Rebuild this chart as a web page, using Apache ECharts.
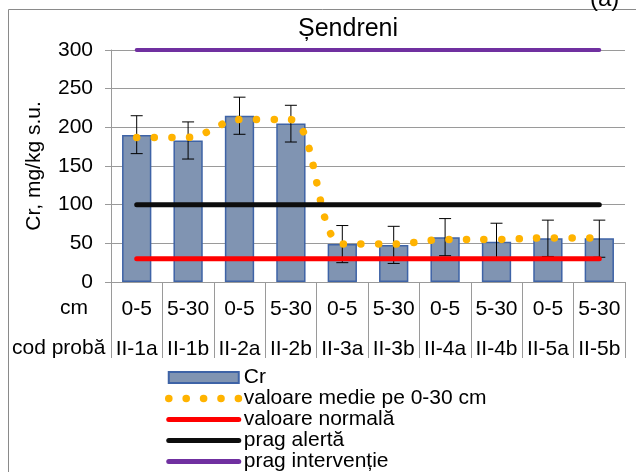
<!DOCTYPE html>
<html><head><meta charset="utf-8">
<script src="https://cdn.jsdelivr.net/npm/echarts@6/dist/echarts.min.js"></script>
<style>html,body{margin:0;padding:0;background:#fff}#c{width:636px;height:472px}</style>
</head><body><div id="c"></div>
<script>
const depths = ['0-5','5-30','0-5','5-30','0-5','5-30','0-5','5-30','0-5','5-30'];
const codes = ['II-1a','II-1b','II-2a','II-2b','II-3a','II-3b','II-4a','II-4b','II-5a','II-5b'];
const crValues = [190,183,215,205,49,48,58,52,56.5,56.5];
const errLow = [166,159,191,181,25,24,34,28,33,32];
const errHigh = [215,207,239,228.5,73,72,82,76,80,80];
const meanValues = [187,187,210,210,49,49,55,55,57,57];
const normalValues = [30,30,30,30,30,30,30,30,30,30];
const alertValues = [100,100,100,100,100,100,100,100,100,100];
const interventionValues = [300,300,300,300,300,300,300,300,300,300];
const yMin = 0, yMax = 300, yStep = 50;
const titleText = 'Șendreni';
const yName = 'Cr, mg/kg s.u.';
const rowHeaders = ['cm','cod probă'];
const names = ['Cr','valoare medie pe 0-30 cm','valoare normală','prag alertă','prag intervenție'];

const FONT = '"Liberation Sans", Arial, sans-serif';
const GRAY = '#9a9a9a';
const chart = echarts.init(document.getElementById('c'));
const dotted = {color:'#FFB300', width:7.5, type:[0.1,17.5], cap:'round'};
const dottedLegend = {color:'#FFB300', width:7.5, type:[0.1,17.3], cap:'round'};
const noSym = {opacity:0};
chart.setOption({
  animation:false,
  textStyle:{fontFamily:FONT},
  title:{text:titleText, left:298, top:17, padding:0, textStyle:{fontFamily:FONT, fontSize:25, fontWeight:'normal', color:'#000'}},
  grid:{left:111, right:11, top:50, bottom:190, containLabel:false},
  graphic:[
    {type:'rect', shape:{x:8.5,y:9.5,width:700,height:600}, style:{fill:'none', stroke:'#8a8a8a', lineWidth:1}, z:-1},
    {type:'text', left:590, top:-13, style:{text:'(a)', fontFamily:FONT, fontSize:24, fill:'#000'}},
    {type:'text', right:636-88, top:298, style:{text:rowHeaders[0], fontFamily:FONT, fontSize:21, fill:'#000', textAlign:'right'}},
    {type:'text', left:12, top:338, style:{text:rowHeaders[1], fontFamily:FONT, fontSize:21, fill:'#000'}}
  ],
  legend:{orient:'vertical', left:165, top:367, padding:0, itemGap:0, itemWidth:70, itemHeight:11, selectedMode:false,
    textStyle:{fontFamily:FONT, fontSize:21, color:'#000', lineHeight:21},
    data:[
      {name:names[0], icon:'rect'},
      {name:names[1], lineStyle:dottedLegend, itemStyle:noSym},
      {name:names[2], lineStyle:{width:5, cap:'round'}, itemStyle:noSym},
      {name:names[3], lineStyle:{width:5, cap:'round'}, itemStyle:noSym},
      {name:names[4], lineStyle:{width:5, cap:'round'}, itemStyle:noSym}
    ]},
  xAxis:{type:'category', data:codes,
    axisLine:{lineStyle:{color:GRAY}},
    axisTick:{show:true, length:76, interval:0, lineStyle:{color:GRAY}},
    axisLabel:{interval:0, margin:7, color:'#000', fontFamily:FONT, fontSize:21, lineHeight:40,
      formatter:(v,i)=>'{a|'+depths[i]+'}\n{a|'+codes[i]+'}',
      rich:{a:{fontFamily:FONT, fontSize:21, lineHeight:40, color:'#000'}}}},
  yAxis:{type:'value', min:yMin, max:yMax, interval:yStep,
    name:yName, nameLocation:'middle', nameGap:66,
    nameTextStyle:{fontFamily:FONT, fontSize:21, color:'#000'},
    axisLine:{show:true, lineStyle:{color:GRAY}},
    axisTick:{show:true, length:6, lineStyle:{color:GRAY}},
    axisLabel:{margin:18, color:'#000', fontFamily:FONT, fontSize:21},
    splitLine:{lineStyle:{color:GRAY}}},
  series:[
    {name:names[0], type:'bar', data:crValues, barWidth:'57%', z:2,
      itemStyle:{color:'#8094B2', borderColor:'#3E63A6', borderWidth:1.5}},
    {name:'err', type:'custom', z:3, data:errLow.map((l,i)=>[i,l,errHigh[i]]),
      encode:{x:0,y:[1,2]},
      renderItem:(params, api)=>{
        const lo = api.coord([api.value(0), api.value(1)]);
        const hi = api.coord([api.value(0), api.value(2)]);
        const w = 6, st = {stroke:'#000', lineWidth:1};
        return {type:'group', children:[
          {type:'line', shape:{x1:lo[0],y1:lo[1],x2:hi[0],y2:hi[1]}, style:st},
          {type:'line', shape:{x1:lo[0]-w,y1:lo[1],x2:lo[0]+w,y2:lo[1]}, style:st},
          {type:'line', shape:{x1:hi[0]-w,y1:hi[1],x2:hi[0]+w,y2:hi[1]}, style:st}
        ]};
      }},
    {name:names[1], type:'line', data:meanValues, smooth:0.35, symbol:'none', z:4,
      itemStyle:{color:'#FFB300'}, lineStyle:dotted},
    {name:names[2], type:'line', data:normalValues, symbol:'none', z:5,
      itemStyle:{color:'#FF0000'}, lineStyle:{color:'#FF0000', width:5, cap:'round'}},
    {name:names[3], type:'line', data:alertValues, symbol:'none', z:5,
      itemStyle:{color:'#0d0d0d'}, lineStyle:{color:'#0d0d0d', width:5, cap:'round'}},
    {name:names[4], type:'line', data:interventionValues, symbol:'none', z:5,
      itemStyle:{color:'#7030A0'}, lineStyle:{color:'#7030A0', width:4, cap:'round'}}
  ]
});
</script></body></html>
